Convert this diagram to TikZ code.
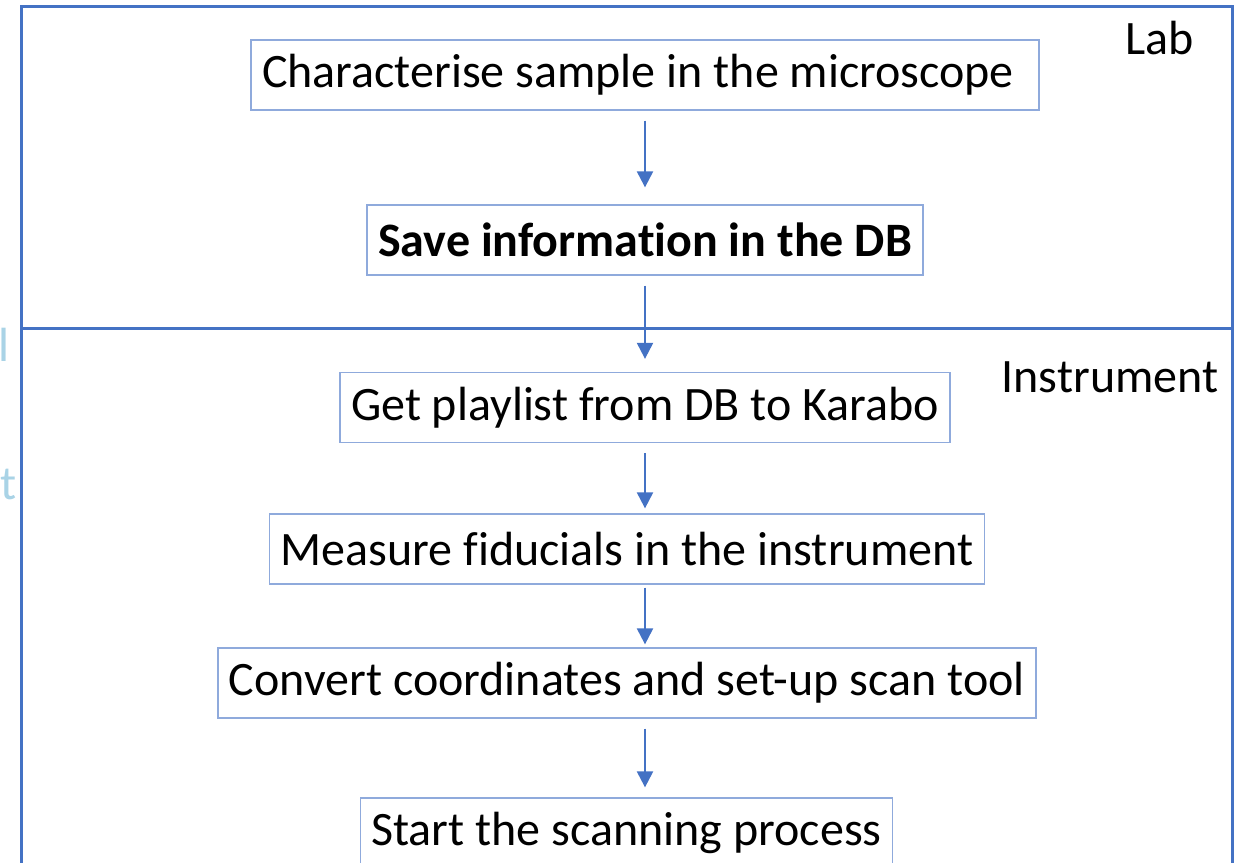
\documentclass[tikz,border=0pt]{standalone}
\usepackage{fontspec}
\setmainfont{Carlito}[Ligatures={CommonOff}]
\usetikzlibrary{arrows.meta}
\definecolor{framecol}{HTML}{4472C4}
\definecolor{boxcol}{HTML}{8FAADC}
\definecolor{fadedcol}{HTML}{A9D3E6}
\tikzset{
  stepbox/.style={draw=boxcol, line width=1.3pt, minimum height=70pt, inner xsep=11pt,
    font=\fontsize{48}{57}\selectfont, text=black},
  lanelabel/.style={font=\fontsize{48}{57}\selectfont, text=black, inner sep=0pt},
  flow/.style={draw=framecol, line width=2.2pt, -{Triangle[length=16pt,width=16pt]}},
  lane/.style={draw=framecol, line width=3pt},
}
\begin{document}
\begin{tikzpicture}[x=1pt,y=-1pt]
\useasboundingbox (0,0) rectangle (1241,862);
% swimlane frame
\draw[lane] (21,880) -- (21,6) -- (1232,6) -- (1232,880);
\draw[lane] (21,328) -- (1232,328);
\node[lanelabel] (lab) at (1160,38) {Lab};
\node[lanelabel] (instr) at (1110,377) {Instrument};
% faded fragments at the left edge
\node[lanelabel, text=fadedcol, anchor=west] (fa) at (-2,345) {l};
\node[lanelabel, text=fadedcol, anchor=west] (fb) at (0,484) {t};
% steps
\node[stepbox] (s1) at (645,75) {Characterise sample in the microscope\kern14pt};
\node[stepbox, font=\fontsize{48}{57}\selectfont\bfseries] (s2) at (645,240) {Save information in the DB};
\node[stepbox] (s3) at (645,407.5) {Get playlist from DB to Karabo};
\node[stepbox] (s4) at (627,549) {Measure fiducials in the instrument};
\node[stepbox] (s5) at (627,683) {Convert coordinates and set-up scan tool};
\node[stepbox] (s6) at (626.5,833) {Start the scanning process};
% arrows along one column
\coordinate (col) at (645,0);
\draw[flow, shorten <=10pt, shorten >=17pt] (s1.south -| col) -- (s2.north -| col);
\draw[flow, shorten <=10pt, shorten >=13pt] (s2.south -| col) -- (s3.north -| col);
\draw[flow, shorten <=10pt, shorten >=5pt] (s3.south -| col) -- (s4.north -| col);
\draw[flow, shorten <=3pt, shorten >=3pt] (s4.south -| col) -- (s5.north -| col);
\draw[flow, shorten <=10pt, shorten >=10pt] (s5.south -| col) -- (s6.north -| col);
\end{tikzpicture}
\end{document}
